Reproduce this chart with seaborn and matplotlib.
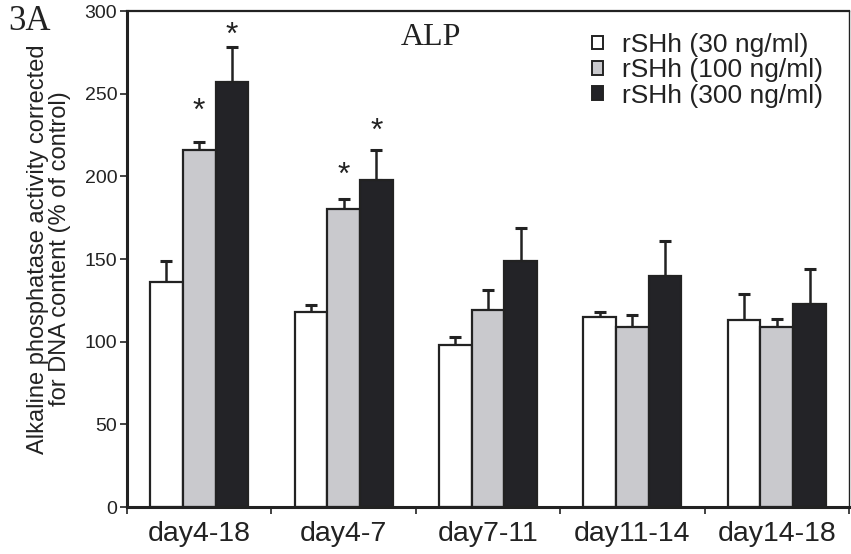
import matplotlib
matplotlib.use("Agg")
import matplotlib.pyplot as plt
from matplotlib.patches import Patch
import seaborn as sns
import pandas as pd

# ---- data ----
categories = ["day4-18", "day4-7", "day7-11", "day11-14", "day14-18"]
series = ["rSHh (30 ng/ml)", "rSHh (100 ng/ml)", "rSHh (300 ng/ml)"]
mean_30 = [136, 118, 98, 115, 113]
mean_100 = [216, 180, 119, 109, 109]
mean_300 = [257, 198, 149, 140, 123]
err_30 = [13, 4, 5, 3, 16]
err_100 = [5, 6, 12, 7, 5]
err_300 = [21, 18, 20, 21, 21]
# significance stars: (category, series index, y position of the star)
stars = [("day4-18", 1, 239), ("day4-18", 2, 285), ("day4-7", 1, 200), ("day4-7", 2, 227)]
yticks = [0, 50, 100, 150, 200, 250, 300]

colors = ["#ffffff", "#c9c9cd", "#232327"]

rows = []
for s, m in zip(series, [mean_30, mean_100, mean_300]):
    for c, v in zip(categories, m):
        rows.append({"period": c, "dose": s, "value": v})
df = pd.DataFrame(rows)

sns.set_theme(style="white")
plt.rcParams["font.family"] = ["Liberation Sans", "DejaVu Sans"]

fig = plt.figure(figsize=(8.51, 5.54), dpi=100)
ax = fig.add_axes([127 / 851, 1 - 507 / 554, 722 / 851, 496 / 554])

sns.barplot(data=df, x="period", y="value", hue="dose", order=categories,
            hue_order=series, palette=colors, width=0.68, gap=0,
            edgecolor="#222222", linewidth=1.6, errorbar=None, ax=ax,
            legend=False, saturation=1)

bar_conts = list(ax.containers)
errs = [err_30, err_100, err_300]
for si, cont in enumerate(bar_conts):
    for ci, bar in enumerate(cont):
        x = bar.get_x() + bar.get_width() / 2
        h = bar.get_height()
        ax.errorbar(x, h, yerr=[[0], [errs[si][ci]]], fmt="none",
                    ecolor="#222222", elinewidth=1.8, capsize=4.5,
                    capthick=2.2, zorder=1)
        bar.set_zorder(2)

for cat, si, yv in stars:
    bar = bar_conts[si][categories.index(cat)]
    x = bar.get_x() + bar.get_width() / 2
    ax.text(x, yv, "*", ha="center", va="center", fontsize=23,
            color="#222222")

ax.set_ylim(0, 300)
ax.set_xlim(-0.5, len(categories) - 0.5)
ax.set_yticks(yticks)
ax.set_yticklabels([str(t) for t in yticks], fontsize=14, color="#222222")
ax.set_xticks(range(len(categories)))
ax.set_xticklabels(categories, fontsize=20.5, color="#222222")
ax.set_xticks([i - 0.5 for i in range(len(categories) + 1)], minor=True)
ax.tick_params(axis="x", which="major", length=0, pad=10)
ax.tick_params(axis="x", which="minor", length=5, width=1.2, color="#222222",
               direction="out", bottom=True)
ax.tick_params(axis="y", length=5, width=1.2, color="#222222",
               direction="out", left=True, pad=2)
ax.set_xlabel("")

ax.set_ylabel("Alkaline phosphatase activity corrected\nfor DNA content (% of control)",
              fontsize=17, color="#222222", linespacing=0.95, va="center",
              multialignment="center")
ax.yaxis.set_label_coords(-0.108, 0.52)

for side, lw in [("left", 2.2), ("bottom", 2.2), ("top", 1.6), ("right", 1.0)]:
    ax.spines[side].set_visible(True)
    ax.spines[side].set_linewidth(lw)
    ax.spines[side].set_color("#222222")

ax.text(0.4216, 0.9456, "ALP", transform=ax.transAxes, ha="center",
        va="center", fontsize=23, family="Liberation Serif", color="#222222")
fig.text(8 / 851, 1 - 21 / 554, "3A", ha="left", va="center", fontsize=25,
         family="Liberation Serif", color="#222222")

handles = [Patch(facecolor=c, edgecolor="#222222", linewidth=1.4) for c in colors]
leg = ax.legend(handles, series, loc="upper left",
                bbox_to_anchor=(592 / 851, 1 - 33 / 554),
                bbox_transform=fig.transFigure, frameon=False, fontsize=19,
                handlelength=0.42, handleheight=0.42, handletextpad=0.7,
                labelspacing=0.05, borderpad=0, borderaxespad=0)
for t in leg.get_texts():
    t.set_color("#222222")

fig.savefig("out.png", dpi=100)
